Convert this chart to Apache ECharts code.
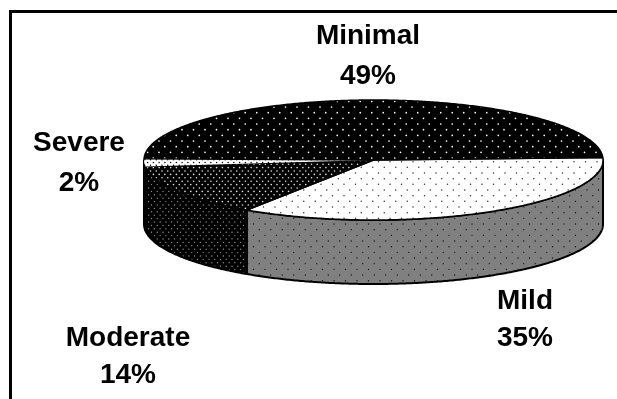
<!DOCTYPE html>
<html>
<head>
<meta charset="utf-8">
<style>html,body{margin:0;padding:0;background:#fff}#chart{width:617px;height:399px}</style>
<script src="https://cdn.jsdelivr.net/npm/echarts@6/dist/echarts.min.js"></script>
</head>
<body>
<div id="chart"></div>
<script>
// Severity shares, in drawing order clockwise from the right-hand side of the disc
const categories = ['Mild', 'Moderate', 'Severe', 'Minimal'];
const shares = [35, 14, 2, 49];

const START_DEG = -2.5; // rotation of the first slice
const DEPTH = 64;       // disc thickness in pixels

// Staggered dot lattice used as a fill texture
function dots(bg, ink, r, stepX, stepY, phaseX, phaseY) {
  const c = document.createElement('canvas');
  c.width = 23; c.height = 34;
  const g = c.getContext('2d');
  g.fillStyle = bg;
  g.fillRect(0, 0, 23, 34);
  g.fillStyle = ink;
  const rows = Math.round(34 / stepY), cols = Math.round(23 / stepX);
  for (let j = 0; j < rows; j++) {
    for (let i = 0; i < cols; i++) {
      const x = phaseX + i * stepX + (j % 2 ? stepX / 2 : 0);
      const y = phaseY + j * stepY;
      for (const ox of [-23, 0, 23]) for (const oy of [-34, 0, 34]) {
        g.beginPath();
        g.arc(x + ox, y + oy, r, 0, Math.PI * 2);
        g.fill();
      }
    }
  }
  return { image: c, repeat: 'repeat' };
}

const topFill = {
  Mild: dots('#ffffff', '#333333', 0.75, 11.5, 5.67, 22, 3),
  Moderate: dots('#000000', '#e0e0e0', 0.8, 5.75, 3.4, 1, 1),
  Severe: dots('#ffffff', '#000000', 0.75, 5.75, 2.83, 1, 1),
  Minimal: dots('#000000', '#ffffff', 0.85, 11.5, 5.67, 21, 5)
};
const sideFill = {
  Mild: dots('#808080', '#111111', 0.7, 11.5, 5.67, 12, 20),
  Moderate: dots('#000000', '#909090', 0.7, 5.75, 3.4, 2, 1),
  Severe: dots('#000000', '#909090', 0.7, 5.75, 3.4, 2, 1),
  Minimal: '#000000'
};

const total = shares.reduce((a, b) => a + b, 0);
let running = 0;
const sliceData = shares.map((v, i) => {
  const from = START_DEG + running / total * 360;
  running += v;
  return { name: categories[i], value: [from, START_DEG + running / total * 360, v] };
});

// Point on the rim of the disc, through the axes, lowered by dy pixels
function rim(api, deg, dy) {
  const a = deg * Math.PI / 180;
  const p = api.coord([Math.cos(a), -Math.sin(a)]);
  return [p[0], p[1] + dy];
}
function arc(api, a, b, dy) {
  const pts = [];
  const n = Math.max(2, Math.ceil(Math.abs(b - a) * 2));
  for (let k = 0; k <= n; k++) pts.push(rim(api, a + (b - a) * k / n, dy));
  return pts;
}

function renderSlice(params, api) {
  const from = api.value(0), to = api.value(1);
  const name = categories[params.dataIndex];
  const children = [];
  const frontA = Math.max(from, 0), frontB = Math.min(to, 180);
  if (frontB > frontA) {
    const pts = arc(api, frontA, frontB, 0).concat(arc(api, frontB, frontA, DEPTH));
    children.push({
      type: 'polygon', shape: { points: pts },
      style: { fill: sideFill[name], stroke: '#000', lineWidth: 2, lineJoin: 'round' }
    });
  }
  children.push({
    type: 'polygon',
    shape: { points: [api.coord([0, 0])].concat(arc(api, from, to, 0)) },
    style: { fill: topFill[name], stroke: name === 'Severe' ? null : '#000', lineWidth: 1.5, lineJoin: 'round' }
  });
  return { type: 'group', children };
}

// Label centre and line spacing for each category
const labelAt = {
  Minimal: [368, 56, 40],
  Mild: [525, 320, 37],
  Severe: [79, 163, 40],
  Moderate: [128, 357, 37]
};
const labels = categories.map((name, i) => ({
  type: 'text', x: labelAt[name][0], y: labelAt[name][1],
  style: {
    text: name + '\n' + shares[i] + '%',
    fontFamily: '"Liberation Sans", Arial, sans-serif', fontWeight: 'bold', fontSize: 28,
    lineHeight: labelAt[name][2], fill: '#000', align: 'center', verticalAlign: 'middle'
  }
}));

const chart = echarts.init(document.getElementById('chart'), null, { renderer: 'canvas' });
chart.setOption({
  animation: false,
  backgroundColor: '#fff',
  grid: { left: 144, right: 14, top: 100, bottom: 179 },
  xAxis: { type: 'value', min: -1, max: 1, show: false },
  yAxis: { type: 'value', min: -1, max: 1, show: false },
  series: [{
    type: 'custom', coordinateSystem: 'cartesian2d', clip: false,
    renderItem: renderSlice, data: sliceData,
    encode: { x: 0, y: 1 }, silent: true
  }],
  graphic: [
    { type: 'polyline', shape: { points: [[10.5, 399], [10.5, 11.5], [617, 11.5]] },
      style: { fill: null, stroke: '#000', lineWidth: 3 } }
  ].concat(labels)
});
</script>
</body>
</html>
